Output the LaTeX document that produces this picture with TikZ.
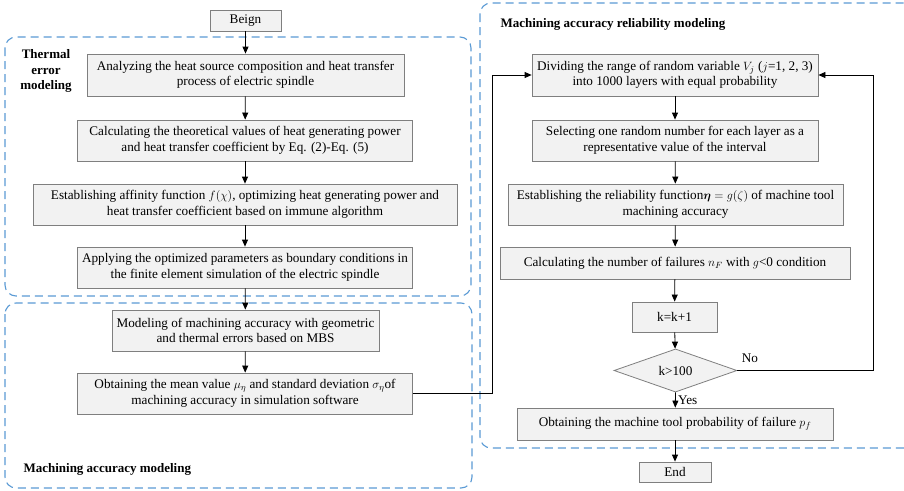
\documentclass[tikz,border=0pt]{standalone}
\usepackage{amssymb}
\usepackage{amsmath}
\usepackage{bm}
\usepackage{fontspec}
\setmainfont{Liberation Serif}
\usepackage{tikz}
\usepackage{xcolor}
\usetikzlibrary{positioning,shapes.geometric,arrows.meta}

\definecolor{box-fill}{HTML}{F2F2F2}
\definecolor{box-line}{HTML}{7F7F7F}
\definecolor{dash-blue}{HTML}{5B9BD5}

\begin{document}
\begin{tikzpicture}
[
x=1pt, y=-1pt,
proc-a/.style={rectangle, draw=box-line, fill=box-fill, line width=0.8pt, align=center,
  inner sep=1pt, font=\fontsize{13.2}{15.5}\selectfont},
dec-a/.style={diamond, draw=box-line, fill=box-fill, line width=0.8pt, inner sep=0pt,
  minimum width=123pt, minimum height=31pt, font=\fontsize{13.2}{15.5}\selectfont},
group-a/.style={draw=dash-blue, line width=1.1pt, dash pattern=on 8pt off 5pt, rounded corners=11pt},
text-a/.style={black, font=\fontsize{13.2}{15.5}\selectfont},
title-a/.style={black, align=center, font=\fontsize{13}{15.5}\selectfont\bfseries},
flow-a/.style={-{Triangle[length=7pt,width=6pt]}, line width=0.8pt, black}
]
\useasboundingbox (0,0) rectangle (904,490);
\fill[white] (0,0) rectangle (904,490);

% dashed groups
\draw[group-a] (5,37) rectangle (471,296);
\draw[group-a] (5,303) rectangle (472,488);
\draw[group-a] (480,3) rectangle (916,448);

\node (lab-thermal) [title-a] at (46,71)  {Thermal\\error\\modeling};
\node (lab-mach)    [title-a, anchor=west] at (20,469) {Machining accuracy modeling};
\node (lab-rel)     [title-a, anchor=west] at (497,24) {Machining accuracy reliability modeling};

% left column
\node (beign) [proc-a, minimum width=71pt,  minimum height=21pt] at (245.5,20.5) {Beign};
\node (t-1)   [proc-a, minimum width=317pt, minimum height=42pt] at (245.5,75)
  {Analyzing the heat source composition and heat transfer\\process of electric spindle};
\node (t-2)   [proc-a, minimum width=335pt, minimum height=41pt] at (245,140.5)
  {Calculating the theoretical values of heat generating power\\and heat transfer coefficient by Eq. (2)-Eq. (5)};
\node (t-3)   [proc-a, minimum width=424pt, minimum height=41pt] at (245,204.5)
  {Establishing affinity function $f(\chi)$, optimizing heat generating power and\\heat transfer coefficient based on immune algorithm};
\node (t-4)   [proc-a, minimum width=335pt, minimum height=41pt] at (245,267.5)
  {Applying the optimized parameters as boundary conditions in\\the finite element simulation of the electric spindle};
\node (m-1)   [proc-a, minimum width=267pt, minimum height=41pt] at (245.5,330.5)
  {Modeling of machining accuracy with geometric\\and thermal errors based on MBS};
\node (m-2)   [proc-a, minimum width=335pt, minimum height=41pt] at (245,393.5)
  {Obtaining the mean value $\mu_\eta$ and standard deviation $\sigma_\eta$of\\machining accuracy in simulation software};

% right column
\node (r-1)   [proc-a, minimum width=286pt, minimum height=42pt] at (675,75)
  {Dividing the range of random variable $V_j$ ($j$=1, 2, 3)\\into 1000 layers with equal probability};
\node (r-2)   [proc-a, minimum width=286pt, minimum height=41pt] at (675,140.5)
  {Selecting one random number for each layer as a\\representative value of the interval};
\node (r-3)   [proc-a, minimum width=335pt, minimum height=41pt] at (675.5,204.5)
  {Establishing the reliability function$\boldsymbol{\eta}=g(\zeta)$ of machine tool\\machining accuracy};
\node (r-4)   [proc-a, minimum width=350pt, minimum height=32pt] at (675,263)
  {Calculating the number of failures $n_F$ with $g$<0 condition};
\node (r-5)   [proc-a, minimum width=85pt,  minimum height=30pt] at (674.5,317) {k=k+1};
\node (dec)   [dec-a] at (675.5,370.5) {k>100};
\node (r-6)   [proc-a, minimum width=316pt, minimum height=32pt] at (675,424)
  {Obtaining the machine tool probability of failure $p_f$};
\node (end)   [proc-a, minimum width=72pt,  minimum height=20pt] at (675,472) {End};

\coordinate (loop-l) at (492,393.5);
\coordinate (loop-r) at (873,370.5);

% connectors
\draw[flow-a] (beign) -- (t-1);
\draw[flow-a] (t-1) -- (t-2);
\draw[flow-a] (t-2) -- (t-3);
\draw[flow-a] (t-3) -- (t-4);
\draw[flow-a] (t-4) -- (m-1);
\draw[flow-a] (m-1) -- (m-2);
\draw[flow-a] (m-2.east) -- (loop-l) |- (r-1.west);
\draw[flow-a] (r-1) -- (r-2);
\draw[flow-a] (r-2) -- (r-3);
\draw[flow-a] (r-3) -- (r-4);
\draw[flow-a] (r-4) -- (r-5);
\draw[flow-a] (r-5) -- (dec);
\draw[flow-a] (dec.east) -- (loop-r) |- (r-1.east);
\draw[flow-a] (dec.south) -- node (lab-yes) [text-a, right=-1pt] {Yes} (r-6);
\draw[flow-a] (r-6) -- (end);
\node (lab-no) [text-a] at (750,358) {No};
\end{tikzpicture}
\end{document}
